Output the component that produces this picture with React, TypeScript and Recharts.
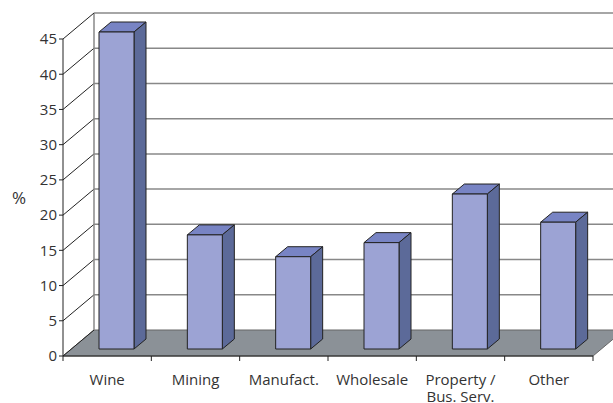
import React from 'react';
import { BarChart, Bar, XAxis, YAxis, CartesianGrid } from 'recharts';

const categories = ['Wine', 'Mining', 'Manufact.', 'Wholesale', 'Property /\nBus. Serv.', 'Other'];
const shares = [45, 16.2, 13.1, 15.1, 22, 18];
const yTicks = [0, 5, 10, 15, 20, 25, 30, 35, 40, 45];

const data = categories.map((name, i) => ({ name, share: shares[i] }));

// 3D layout
const W = 613;
const H = 403;
const LEFT = 63;
const RIGHT = 20;
const TOP = 39;
const XAXIS_H = 30;
const BOTTOM = 47 - XAXIS_H;
const DX = 31; // depth of the walls
const DY = -26;
const FX = 9; // front face of bars inside the depth
const FY = -7;
const BX = 12; // bar depth
const BY = -10;
const BAND = (W - LEFT - RIGHT) / categories.length;
const FLOOR_Y = H - 47;

const FONT = '"Open Sans", "DejaVu Sans", sans-serif';

const GridLine = (props: any) => {
 const { x1, y1, x2 } = props;
 const isFloor = Math.abs(y1 - FLOOR_Y) < 2;
 return (
 <g key={props.key}>
 {isFloor && (
 <polygon
 points={`${x1},${y1} ${x2},${y1} ${x2 + DX},${y1 + DY} ${x1 + DX},${y1 + DY}`}
 fill="#8b9197"
 stroke="#666"
 strokeWidth={1}
 />
 )}
 {Math.abs(y1 - TOP) < 2 && (
 <line x1={x1 + DX} y1={y1 + DY} x2={x1 + DX} y2={FLOOR_Y + DY} stroke="#888" strokeWidth={1.5} />
 )}
 <line x1={x1} y1={y1} x2={x1 + DX} y2={y1 + DY} stroke="#222" strokeWidth={1} />
 {!isFloor && (
 <line x1={x1 + DX} y1={y1 + DY} x2={x2 + DX} y2={y1 + DY} stroke="#888" strokeWidth={1.5} />
 )}
 </g>
 );
};

const Bar3D = (props: any) => {
 const { x, y, width, height } = props;
 const fx = x + FX;
 const fy = y + FY;
 return (
 <g stroke="#222" strokeWidth={1} strokeLinejoin="round">
 <polygon
 points={`${fx},${fy} ${fx + BX},${fy + BY} ${fx + width + BX},${fy + BY} ${fx + width},${fy}`}
 fill="#7884c4"
 />
 <polygon
 points={`${fx + width},${fy} ${fx + width + BX},${fy + BY} ${fx + width + BX},${fy + height + BY} ${fx + width},${fy + height}`}
 fill="#5c6a99"
 />
 <rect x={fx} y={fy} width={width} height={height} fill="#9ca3d4" />
 </g>
 );
};

const CategoryTick = (props: any) => {
 const { x, payload, index } = props;
 const lines = String(payload.value).split('\n');
 return (
 <g>
 {index === 0 && <line x1={x - BAND / 2} y1={FLOOR_Y} x2={x - BAND / 2} y2={FLOOR_Y + 5} stroke="#222" />}
 <line x1={x + BAND / 2} y1={FLOOR_Y} x2={x + BAND / 2} y2={FLOOR_Y + 5} stroke="#222" />
 <text x={x} y={FLOOR_Y + 29} textAnchor="middle" fontSize={15} fill="#333" fontFamily={FONT}>
 {lines.map((l, i) => (
 <tspan key={i} x={x} dy={i === 0 ? 0 : 17}>
 {l}
 </tspan>
 ))}
 </text>
 </g>
 );
};

export default function App() {
 return (
 <div style={{ position: 'absolute', left: 0, top: 0, background: '#fff' }}>
 <BarChart
 width={W}
 height={H}
 data={data}
 margin={{ top: TOP, right: RIGHT, bottom: BOTTOM, left: 0 }}
 barSize={35}
 >
 <CartesianGrid vertical={false} horizontal={GridLine} />
 <XAxis
 dataKey="name"
 height={XAXIS_H}
 axisLine={{ stroke: '#222' }}
 tickLine={false}
 tick={<CategoryTick />}
 interval={0}
 />
 <YAxis
 width={LEFT}
 domain={[0, 45]}
 ticks={yTicks}
 interval={0}
 axisLine={{ stroke: '#222' }}
 tickLine={{ stroke: '#222' }}
 tickSize={4}
 tick={{ fontSize: 15, fill: '#333', fontFamily: FONT }}
 label={{ value: '%', position: 'insideLeft', offset: 12, fontSize: 17, fill: '#333', fontFamily: FONT }}
 />
 <Bar dataKey="share" shape={<Bar3D />} isAnimationActive={false} />
 </BarChart>
 </div>
 );
}
